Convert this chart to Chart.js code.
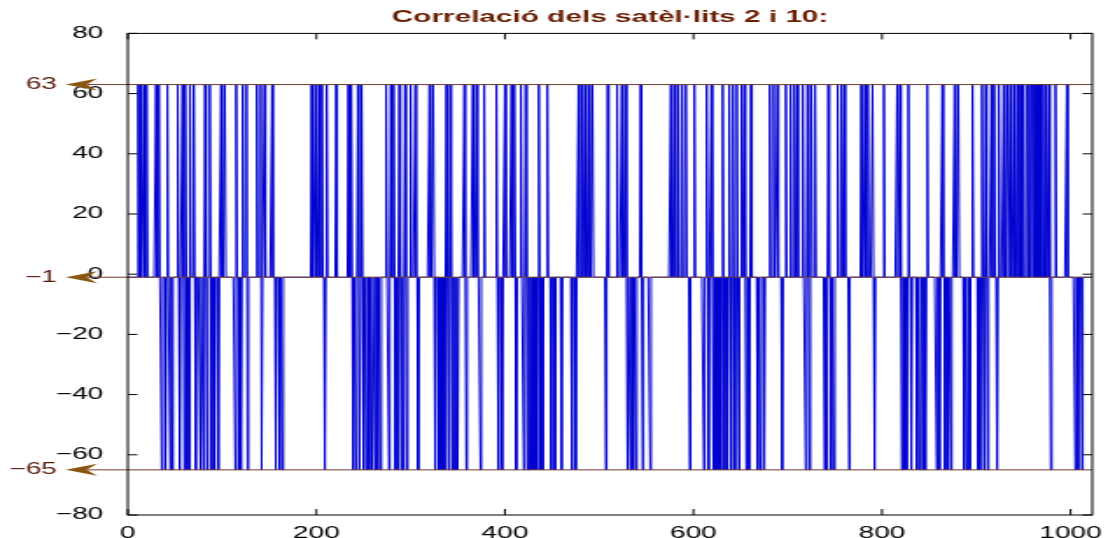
<!DOCTYPE html>
<html>
<head>
<meta charset="utf-8">
<title>Correlació dels satèl·lits 2 i 10</title>
<script src="https://cdn.jsdelivr.net/npm/chart.js@4.4.1/dist/chart.umd.min.js"></script>
<style>
  html, body { margin: 0; padding: 0; background: #fff; overflow: hidden; }
  #wrap { width: 1108px; height: 538px; overflow: hidden; }
  /* the original figure is stretched sideways, so the canvas is stretched the same way */
  #corrChart { display: block; transform: scaleX(1.7504); transform-origin: 0 0; }
</style>
</head>
<body>
<div id="wrap"><canvas id="corrChart" width="633" height="538"></canvas></div>
<script>
const chartTitle = "Correlació dels satèl·lits 2 i 10:";
const sampleCount = 1023;
const baseValue = -1;

// levels marked with arrows on the left
const levelValues = [63, -1, -65];
const levelLabels = ["63", "\u22121", "\u221265"];

// samples where the correlation reaches +63
const highPeaks = [
  11, 13, 17, 20, 30, 33, 42, 53, 58, 61, 66, 70, 82, 87, 99, 103, 115, 122, 126,
  137, 141, 145, 153, 195, 199, 203, 206, 211, 221, 234, 237, 244, 248,
  274, 279, 282, 288, 294, 300, 305, 320, 324, 338, 342, 357, 366, 370, 378,
  391, 400, 407, 410, 417, 422,
  436, 445, 478, 482, 485, 489, 493, 509, 519, 524, 528, 544, 576, 580, 584,
  588, 592, 601, 614, 619,
  631, 638, 642, 646, 651, 654, 661, 681, 685, 689, 698, 703, 707, 710, 716,
  721, 725, 729, 743, 753, 757, 760, 778, 782, 785, 790, 802, 816, 819, 828,
  848, 864, 877, 881, 896, 906, 910, 916, 919, 924, 929, 933, 936, 940, 944,
  947, 950, 954, 956, 958, 959, 961, 962, 964, 966, 968, 971, 974, 977, 984, 996
];

// samples where the correlation drops to -65
const lowPeaks = [
  36, 40, 45, 47, 55, 60, 63, 65, 72, 77, 80, 84, 89, 92, 96, 114, 118, 120, 127,
  142, 157, 161, 164, 209, 239, 242, 246, 250,
  253, 256, 259, 262, 265, 268, 277, 284, 286, 290, 292, 296, 308, 326, 330,
  332, 334, 336, 340, 344, 346, 348, 350, 359, 374, 393, 397, 412,
  420, 424, 426, 428, 430, 432, 434, 438, 440, 449, 453, 460, 471, 475, 507,
  530, 533, 536, 539, 546, 554, 596, 611, 616,
  621, 623, 625, 627, 629, 633, 636, 640, 644, 648, 656, 659, 668, 671, 675,
  694, 719, 723, 739, 741, 746, 749, 765, 792, 821, 824, 826, 831,
  837, 840, 843, 846, 858, 861, 867, 870, 873, 887, 890, 893, 902, 904, 908,
  912, 922, 979, 1005, 1008, 1012
];

const xTickValues = [0, 200, 400, 600, 800, 1000];
const yTickValues = [-80, -60, -40, -20, 0, 20, 40, 60, 80];

// full series: -1 everywhere except the peaks
const corrPoints = [];
for (let i = 1; i <= sampleCount; i++) {
  let v = baseValue;
  if (highPeaks.includes(i)) v = levelValues[0];
  else if (lowPeaks.includes(i)) v = levelValues[2];
  corrPoints.push({ x: i, y: v });
}

const labelFont = { family: "'Liberation Sans', Arial, sans-serif", size: 16 };
const minus = v => String(v).replace("-", "\u2212");

// box, inward ticks and the level arrows (matlab style)
const frameAndArrows = {
  id: "frameAndArrows",
  afterDatasetsDraw(chart) {
    const { ctx, chartArea: a, scales } = chart;
    const xs = scales.x, ys = scales.y;
    ctx.save();

    levelValues.forEach((v, i) => {
      const py = ys.getPixelForValue(v);
      ctx.strokeStyle = "#6e3b2c";
      ctx.lineWidth = 1;
      ctx.beginPath();
      ctx.moveTo(50, py);
      ctx.lineTo(a.right, py);
      ctx.stroke();

      ctx.fillStyle = "#8b5512";
      ctx.beginPath();
      ctx.moveTo(37.5, py);
      ctx.lineTo(55.5, py - 6);
      ctx.lineTo(49.5, py);
      ctx.lineTo(55.5, py + 6);
      ctx.closePath();
      ctx.fill();

      ctx.fillStyle = "#5a1c0c";
      ctx.font = "16px 'Liberation Sans', Arial, sans-serif";
      ctx.textAlign = "right";
      ctx.textBaseline = "middle";
      ctx.fillText(levelLabels[i], 32.5, py);
    });

    ctx.strokeStyle = "#000";
    ctx.lineWidth = 1;
    ctx.strokeRect(a.left, a.top, a.right - a.left, a.bottom - a.top);
    ctx.beginPath();
    yTickValues.forEach(v => {
      const py = ys.getPixelForValue(v);
      ctx.moveTo(a.left, py);
      ctx.lineTo(a.left + 5.5, py);
      ctx.moveTo(a.right, py);
      ctx.lineTo(a.right - 5.5, py);
    });
    xTickValues.forEach(v => {
      const px = xs.getPixelForValue(v);
      ctx.moveTo(px, a.bottom);
      ctx.lineTo(px, a.bottom - 6);
      ctx.moveTo(px, a.top);
      ctx.lineTo(px, a.top + 6);
    });
    ctx.stroke();
    ctx.restore();
  }
};

const ctx = document.getElementById("corrChart").getContext("2d");
new Chart(ctx, {
  type: "line",
  data: {
    datasets: [{
      label: "Correlació",
      data: corrPoints,
      borderColor: "#0000d0",
      borderWidth: 1,
      pointRadius: 0,
      tension: 0,
      fill: false
    }]
  },
  options: {
    responsive: false,
    animation: false,
    parsing: false,
    layout: { padding: { left: 0, right: 9, top: 0, bottom: 0 } },
    plugins: {
      legend: { display: false },
      tooltip: { enabled: false },
      title: {
        display: true,
        text: chartTitle,
        fullSize: false,
        color: "#6a1e00",
        font: { family: "'Liberation Sans', Arial, sans-serif", size: 17, weight: "bold" },
        padding: { top: 7, bottom: 6 }
      }
    },
    scales: {
      x: {
        type: "linear",
        min: 0,
        max: sampleCount,
        grid: { display: false },
        border: { display: false },
        afterBuildTicks: s => { s.ticks = xTickValues.map(v => ({ value: v })); },
        afterFit: s => { s.height = 23; },
        ticks: { color: "#000", font: labelFont, padding: 1, maxRotation: 0, callback: v => minus(v) }
      },
      y: {
        min: -80,
        max: 80,
        grid: { display: false },
        border: { display: false },
        afterBuildTicks: s => { s.ticks = yTickValues.map(v => ({ value: v })); },
        afterFit: s => { s.width = 73; },
        ticks: { color: "#000", font: labelFont, padding: 6, callback: v => minus(v) }
      }
    }
  },
  plugins: [frameAndArrows]
});
</script>
</body>
</html>
